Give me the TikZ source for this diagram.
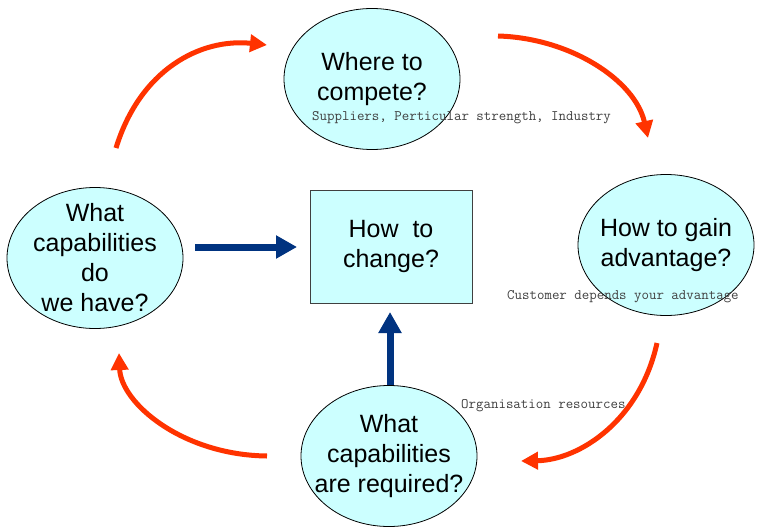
\documentclass[tikz,border=0pt]{standalone}
\usepackage{fontspec}
\setmainfont{Liberation Sans}
\newfontfamily\monof{Latin Modern Mono}
\usetikzlibrary{arrows.meta,shapes.geometric}
\definecolor{cellfill}{HTML}{CCFFFF}
\definecolor{redarrow}{HTML}{FF3300}
\definecolor{navyarrow}{HTML}{003380}
\definecolor{notegray}{HTML}{404040}
\begin{document}
\begin{tikzpicture}[x=1pt,y=-1pt,
  cell/.style={ellipse, draw=black, line width=0.8pt, fill=cellfill, minimum width=176pt, minimum height=141pt, inner sep=0pt},
  celltext/.style={align=center, font=\fontsize{25}{30}\selectfont, text=black, inner sep=0pt},
  boxcell/.style={rectangle, draw=black!75, line width=0.8pt, fill=cellfill, minimum width=162pt, minimum height=113pt, inner sep=0pt},
  redflow/.style={draw=redarrow, line width=5pt, -{Triangle[length=17pt,width=17pt]}},
  blueflow/.style={draw=navyarrow, line width=7pt, -{Triangle[length=21pt,width=22pt]}},
  note/.style={font=\monof\fontsize{14.5}{16}\selectfont, text=notegray, anchor=west, inner sep=0pt}
]
\useasboundingbox[fill=white] (0,0) rectangle (765,532);

% cells
\node[cell] (top) at (372,79) {};
\node[celltext] (toptext) at (top.center) {Where to\\compete?};
\node[cell] (left) at (95,258) {};
\node[celltext] (lefttext) at (left.center) {What\\capabilities\\do\\we have?};
\node[cell] (right) at (666,245) {};
\node[celltext] (righttext) at (right.center) {How to gain\\advantage?};
\node[cell] (bottom) at (389,456) {};
\node[celltext] (bottomtext) at (bottom.center) {What\\capabilities\\are required?};
\node[boxcell] (change) at (391,246.5) {};
\node[celltext] (changetext) at (change.center) {How\ \ to\\change?};

% red cycle arrows
\coordinate (r1s) at (116,148);
\coordinate (r1e) at (267,45);
\coordinate (r2s) at (498,36);
\coordinate (r2e) at (648,138);
\coordinate (r3s) at (657,343);
\coordinate (r3e) at (521,461);
\coordinate (r4s) at (267,456);
\coordinate (r4e) at (119,353);
\draw[redflow] (r1s) .. controls (140,70) and (200,38) .. (r1e);
\draw[redflow] (r2s) .. controls (570,38) and (635,80) .. (r2e);
\draw[redflow] (r3s) .. controls (640,420) and (580,460) .. (r3e);
\draw[redflow] (r4s) .. controls (182,455) and (121,403) .. (r4e);

% blue arrows
\coordinate (b1s) at (195,247);
\coordinate (b1e) at (297,247);
\coordinate (b2e) at (390,312);
\draw[blueflow] (b1s) -- (b1e);
\draw[blueflow] (bottom.north -| b2e) -- (b2e);

% notes
\node[note] (n1) at (312,118) {Suppliers, Perticular strength, Industry};
\node[note] (n2) at (507,297) {Customer depends your advantage};
\node[note] (n3) at (461,406) {Organisation resources};
\end{tikzpicture}
\end{document}
